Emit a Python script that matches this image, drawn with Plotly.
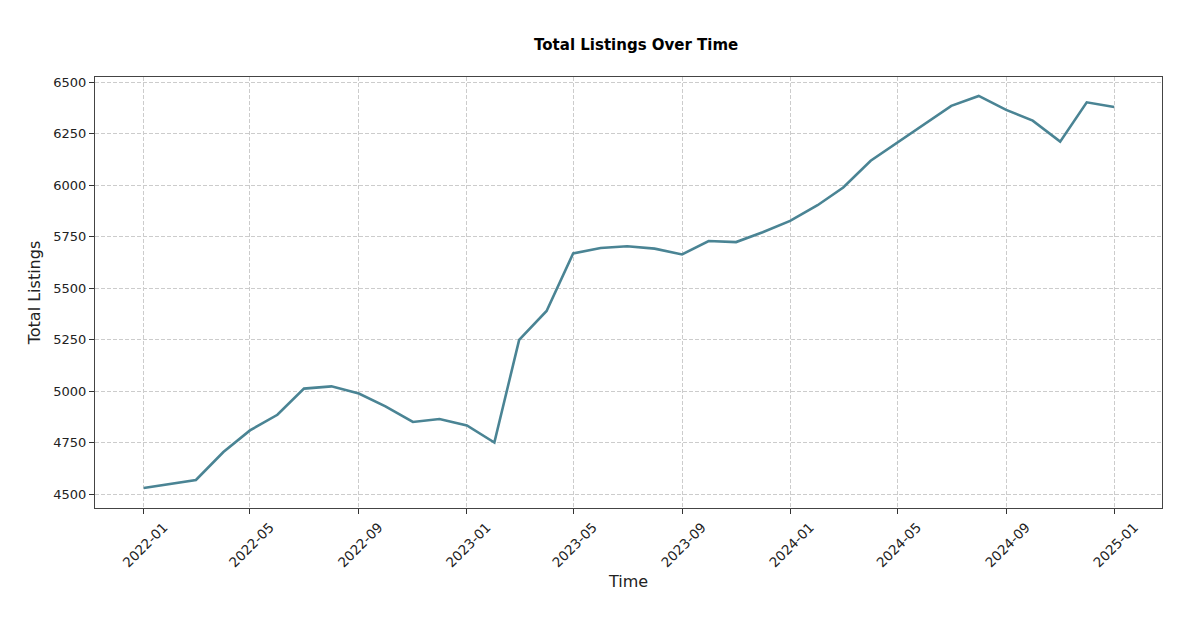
import plotly.graph_objects as go

months = ["2022-01", "2022-02", "2022-03", "2022-04", "2022-05", "2022-06", "2022-07", "2022-08",
          "2022-09", "2022-10", "2022-11", "2022-12", "2023-01", "2023-02", "2023-03", "2023-04",
          "2023-05", "2023-06", "2023-07", "2023-08", "2023-09", "2023-10", "2023-11", "2023-12",
          "2024-01", "2024-02", "2024-03", "2024-04", "2024-05", "2024-06", "2024-07", "2024-08",
          "2024-09", "2024-10", "2024-11", "2024-12", "2025-01"]
listings = [4529, 4550, 4568, 4704, 4809, 4885, 5012, 5023,
            4988, 4926, 4850, 4864, 4833, 4750, 5249, 5389,
            5669, 5695, 5704, 5692, 5664, 5729, 5724, 5772,
            5827, 5903, 5989, 6119, 6207, 6298, 6386, 6434,
            6366, 6314, 6212, 6403, 6380]
tick_labels = ["2022-01", "2022-05", "2022-09", "2023-01", "2023-05", "2023-09",
               "2024-01", "2024-05", "2024-09", "2025-01"]
y_ticks = [4500, 4750, 5000, 5250, 5500, 5750, 6000, 6250, 6500]

dates = [m + "-01" for m in months]

fig = go.Figure()
fig.add_trace(go.Scatter(x=dates, y=listings, mode="lines",
                         line=dict(color="#4a8494", width=2.6)))

font = "DejaVu Sans, sans-serif"
fig.update_layout(
    width=1200, height=638,
    paper_bgcolor="white", plot_bgcolor="white",
    margin=dict(l=87, r=46, t=69, b=138, autoexpand=False),
    showlegend=False,
    font=dict(family=font, color="#222"),
    title=dict(text="<b>Total Listings Over Time</b>", x=0.5235, xanchor="center",
               yref="container", y=1 - 37 / 638, yanchor="middle",
               font=dict(family=font, size=15, color="black")),
)
fig.update_xaxes(
    type="date",
    range=["2021-11-07", "2025-02-24"],
    tickvals=[t + "-01" for t in tick_labels], ticktext=tick_labels,
    tickangle=-45, tickfont=dict(size=13.5, color="#222"),
    ticklabelshift=20,
    ticks="outside", ticklen=5, tickcolor="#333",
    showgrid=True, gridcolor="#cccccc", griddash="4px,2px", gridwidth=1,
    showline=True, linecolor="#444", linewidth=1.2, mirror=True,
    zeroline=False,
    title=dict(text="Time", font=dict(size=16, color="#222"), standoff=6),
)
fig.update_yaxes(
    range=[4432, 6526],
    tickvals=y_ticks, ticktext=[str(v) for v in y_ticks],
    tickfont=dict(size=13, color="#222"),
    ticks="outside", ticklen=5, tickcolor="#333",
    showgrid=True, gridcolor="#cccccc", griddash="4px,2px", gridwidth=1,
    showline=True, linecolor="#444", linewidth=1.2, mirror=True,
    zeroline=False,
    title=dict(text="Total Listings", font=dict(size=16, color="#222"), standoff=8),
)

fig.write_html("out.html")
